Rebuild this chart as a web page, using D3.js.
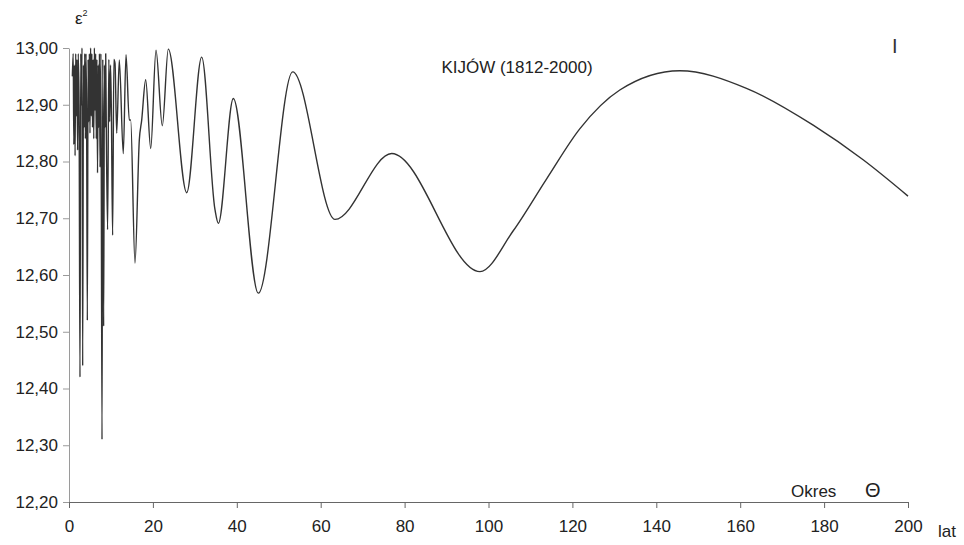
<!DOCTYPE html>
<html>
<head>
<meta charset="utf-8">
<script src="https://cdn.jsdelivr.net/npm/d3@7"></script>
<style>
  html, body { margin: 0; padding: 0; background: #fff; }
  svg { display: block; }
</style>
</head>
<body>
<div id="chart"></div>
<script>
// ── Data (period in years, eps^2) ──
var periods = [
  0.8, 1.0, 1.15, 1.3, 1.45, 1.6, 1.75, 1.9, 2.05, 2.2, 2.4, 2.62, 2.8, 2.95, 3.1, 3.26,
  3.45, 3.6, 3.75, 3.9, 4.05, 4.2, 4.37, 4.55, 4.7, 4.85, 5.0, 5.15, 5.3, 5.45, 5.6, 5.75,
  5.9, 6.05, 6.2, 6.35, 6.5, 6.65, 6.8, 6.95, 7.1, 7.25, 7.4, 7.6, 7.87, 8.05, 8.26, 8.45,
  8.6, 8.75, 8.9, 9.2, 9.5, 9.7, 9.9, 10.1, 10.4, 10.7,
  10.97, 11.37, 11.99, 12.94, 13.59, 14.37, 14.7, 15.73, 16.76, 17.33, 18.28, 19.48, 20.74,
  22.24, 23.67, 28.06, 31.63, 34.8, 35.6, 39.17, 45.13, 53.33, 63.41, 76.92,
  97.97, 105.9, 113.9, 121.8, 131.3, 145.6, 161.5, 177.4, 189.3, 200
];
var eps2 = [
  12.95, 12.99, 12.83, 12.97, 12.81, 12.99, 12.88, 12.98, 12.82, 12.99, 12.90, 12.42, 12.99, 12.90, 13.00, 12.44,
  12.97, 12.86, 12.99, 12.84, 12.99, 12.88, 12.52, 12.98, 12.87, 12.99, 12.85, 13.00, 12.88, 12.99, 12.86, 12.98,
  12.84, 13.00, 12.89, 12.99, 12.84, 12.98, 12.78, 12.97, 12.86, 12.99, 12.79, 12.99, 12.31, 12.98, 12.51, 12.97,
  12.86, 12.99, 12.85, 12.68, 12.98, 12.87, 12.97, 12.89, 12.67, 12.98,
  12.973, 12.85, 12.979, 12.814, 12.988, 12.873, 12.873, 12.621, 12.838, 12.873, 12.944, 12.823, 12.996,
  12.863, 12.998, 12.745, 12.984, 12.715, 12.691, 12.911, 12.568, 12.958, 12.698, 12.814,
  12.606, 12.678, 12.770, 12.858, 12.926, 12.960, 12.929, 12.864, 12.803, 12.739
];
var xTicks = [0, 20, 40, 60, 80, 100, 120, 140, 160, 180, 200];
var yTicks = [12.2, 12.3, 12.4, 12.5, 12.6, 12.7, 12.8, 12.9, 13.0];

var TITLE = 'KIJÓW (1812-2000)';
var X_LABEL = 'Okres';
var X_UNIT = 'lat';

// ── Layout ──
var W = 964, H = 545;
var PLOT = { left: 69, right: 908, top: 48, bottom: 502 };
var FONT = 'Arial, "Liberation Sans", sans-serif';
var FS = '17px';

var svg = d3.select('#chart').append('svg')
  .attr('width', W).attr('height', H);

var x = d3.scaleLinear().domain([0, 200]).range([PLOT.left, PLOT.right]);
var y = d3.scaleLinear().domain([12.2, 13.0]).range([PLOT.bottom, PLOT.top]);
var fmt = function (d) { return d3.format('.2f')(d).replace('.', ','); };

// Y axis
var yG = svg.append('g')
  .attr('transform', 'translate(' + PLOT.left + ',0)')
  .call(d3.axisLeft(y).tickValues(yTicks).tickFormat(fmt).tickSize(6).tickSizeOuter(0).tickPadding(5));
yG.select('.domain').attr('stroke', '#9a9a9a');
yG.selectAll('.tick line').attr('stroke', '#9a9a9a');
yG.selectAll('.tick text').attr('fill', '#222').style('font', FS + ' ' + FONT);

// X axis
var xG = svg.append('g')
  .attr('transform', 'translate(0,' + PLOT.bottom + ')')
  .call(d3.axisBottom(x).tickValues(xTicks).tickFormat(d3.format('d')).tickSize(6).tickSizeOuter(0).tickPadding(12));
xG.select('.domain').attr('stroke', '#666');
xG.selectAll('.tick line').attr('stroke', '#666');
xG.selectAll('.tick text').attr('fill', '#222').style('font', FS + ' ' + FONT);

// Curve
var pts = periods.map(function (p, i) { return [p, eps2[i]]; });
var line = d3.line()
  .x(function (d) { return x(d[0]); })
  .y(function (d) { return y(d[1]); })
  .curve(d3.curveMonotoneX);

svg.append('path')
  .datum(pts)
  .attr('d', line)
  .attr('fill', 'none')
  .attr('stroke', '#333')
  .attr('stroke-width', 1.4)
  .attr('stroke-linejoin', 'round');

// Texts
var eps = svg.append('text')
  .attr('x', 75).attr('y', 24)
  .attr('fill', '#222')
  .style('font', FS + ' ' + FONT);
eps.append('tspan').text('ε');
eps.append('tspan').attr('dy', -8).style('font-size', '9px').text('2');

svg.append('text')
  .attr('x', 517).attr('y', 73)
  .attr('text-anchor', 'middle')
  .attr('fill', '#222')
  .style('font', FS + ' ' + FONT)
  .text(TITLE);

svg.append('text')
  .attr('x', 892).attr('y', 53)
  .attr('fill', '#333')
  .style('font', '20px ' + FONT)
  .text('I');

svg.append('text')
  .attr('x', 791).attr('y', 497)
  .attr('fill', '#222')
  .style('font', FS + ' ' + FONT)
  .text(X_LABEL);

svg.append('text')
  .attr('x', 865).attr('y', 497)
  .attr('fill', '#222')
  .style('font', '20px ' + FONT)
  .text('Θ');

svg.append('text')
  .attr('x', 938).attr('y', 537)
  .attr('fill', '#222')
  .style('font', FS + ' ' + FONT)
  .text(X_UNIT);
</script>
</body>
</html>
